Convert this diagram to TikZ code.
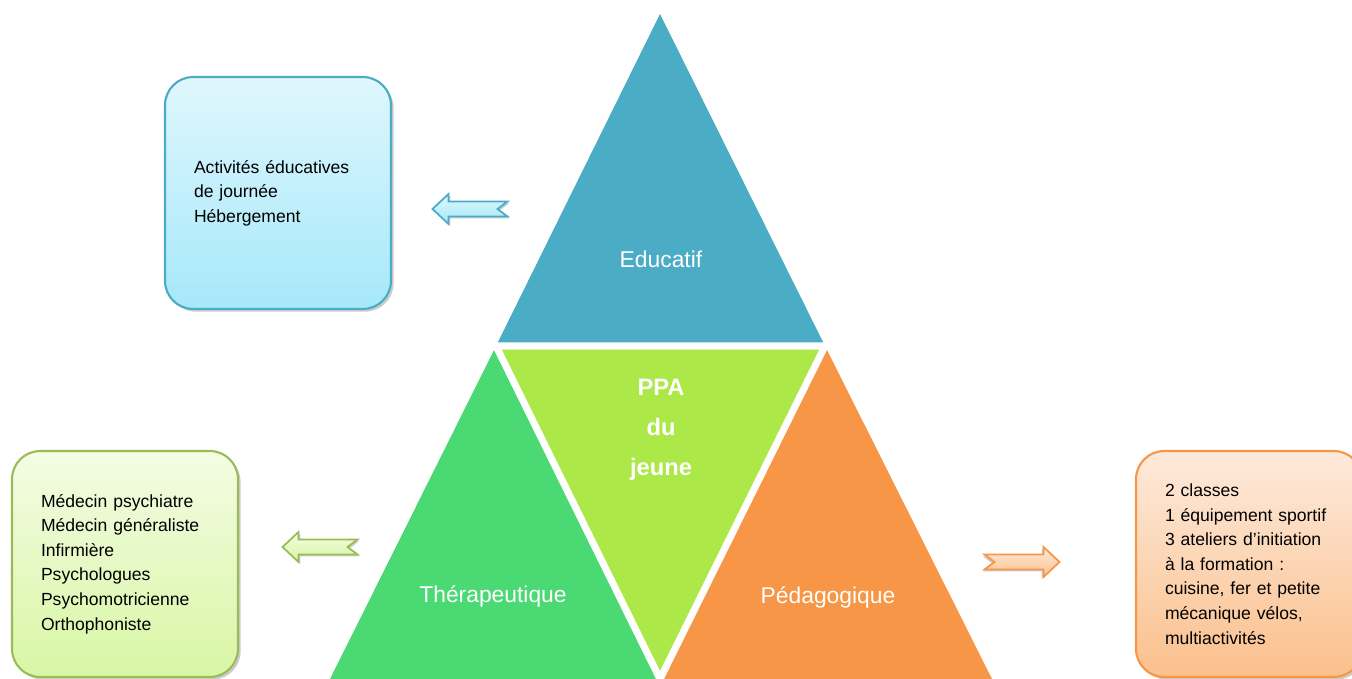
\documentclass[tikz,border=0pt]{standalone}
\usepackage{fontspec}
\setmainfont{Liberation Sans}
\usetikzlibrary{shadows,positioning}

\definecolor{educ}{HTML}{4BACC6}
\definecolor{ppaGreen}{HTML}{ACE848}
\definecolor{thera}{HTML}{4AD973}
\definecolor{peda}{HTML}{F79646}
\definecolor{therb}{HTML}{9BBB59}
\definecolor{eduTop}{HTML}{DFF7FD}
\definecolor{eduBot}{HTML}{A6E8FA}
\definecolor{therTop}{HTML}{F4FCE4}
\definecolor{therBot}{HTML}{D8F6A4}
\definecolor{pedTop}{HTML}{FDEADC}
\definecolor{pedBot}{HTML}{FBC08C}

\tikzstyle{gap} = [draw=white, line width=4pt, line join=round]
\tikzstyle{big} = [text=white, font=\fontsize{13}{15}\selectfont]
\tikzset{
 ppaText/.style
  = {text=white, align=center, font=\bfseries\fontsize{13.5}{22.7}\selectfont},
 box/.style
  = {rectangle, rounded corners=16pt, line width=1.2pt, align=left,
     text width=3.36cm, inner xsep=0.58cm, inner ysep=0pt, minimum width=4.52cm,
     minimum height=4.52cm, font=\fontsize{10}{14}\selectfont,
     drop shadow={shadow xshift=1.5pt, shadow yshift=-1.5pt, opacity=0.4}},
 edufill/.style
  = {draw=educ, top color=eduTop, bottom color=eduBot},
 therfill/.style
  = {draw=therb, top color=therTop, bottom color=therBot},
 pedfill/.style
  = {draw=peda, top color=pedTop, bottom color=pedBot},
 blockarrow/.pic
  = {\draw[#1, line width=1pt, line join=miter]
       (-37.5,0) -- (-21.5,-15) -- (-21.5,-7.5) -- (37.5,-7.5) -- (27.5,0)
       -- (37.5,7.5) -- (-21.5,7.5) -- (-21.5,15) -- cycle;},
}

\begin{document}
\begin{tikzpicture}[x=0.02cm, y=-0.02cm]

\clip (0,0) rectangle (1352,679);

% Corners of the triangles
\coordinate (top) at (660,14);
\coordinate (midl) at (496,346);
\coordinate (midr) at (825,346);
\coordinate (botl) at (330,679);
\coordinate (botm) at (660,679);
\coordinate (botr) at (992,679);

% Triangles
\fill[educ] (top) -- (midl) -- (midr) -- cycle;
\fill[thera] (midl) -- (botl) -- (botm) -- cycle;
\fill[peda] (midr) -- (botm) -- (botr) -- cycle;
\fill[ppaGreen] (midl) -- (midr) -- (botm) -- cycle;
\draw[gap] (midl) -- (midr) -- (botm) -- cycle;

% Triangle labels
\node[big] (edu) at (661,259) {Educatif};
\node[big] (ther) at (493,596) {Thérapeutique};
\node[big] (ped) at (828,597) {Pédagogique};
\node[ppaText] (jeune) at (661,430) {PPA\\du\\jeune};

% Boxes
\node[box, edufill, minimum height=4.64cm] (eduBox) at (278,193)
  {Activités éducatives\\de journée\\Hébergement};
\node[box, therfill] (therBox) at (125,564)
  {Médecin psychiatre\\Médecin généraliste\\Infirmière\\Psychologues\\Psychomotricienne\\Orthophoniste};
\node[box, pedfill] (pedBox) at (1249,564)
  {2 classes\\1 équipement sportif\\3 ateliers d’initiation\\à la formation :\\cuisine, fer et petite\\mécanique vélos,\\multiactivités};

% Arrows
\pic (eduArrow) at (470,209)
  {blockarrow={edufill, drop shadow={shadow xshift=1pt, shadow yshift=-1pt, opacity=0.4}}};
\pic (therArrow) at (320,547)
  {blockarrow={therfill, drop shadow={shadow xshift=1pt, shadow yshift=-1pt, opacity=0.4}}};
\pic[xscale=-1] (pedArrow) at (1022,562)
  {blockarrow={pedfill, drop shadow={shadow xshift=-1pt, shadow yshift=-1pt, opacity=0.4}}};

\end{tikzpicture}
\end{document}
